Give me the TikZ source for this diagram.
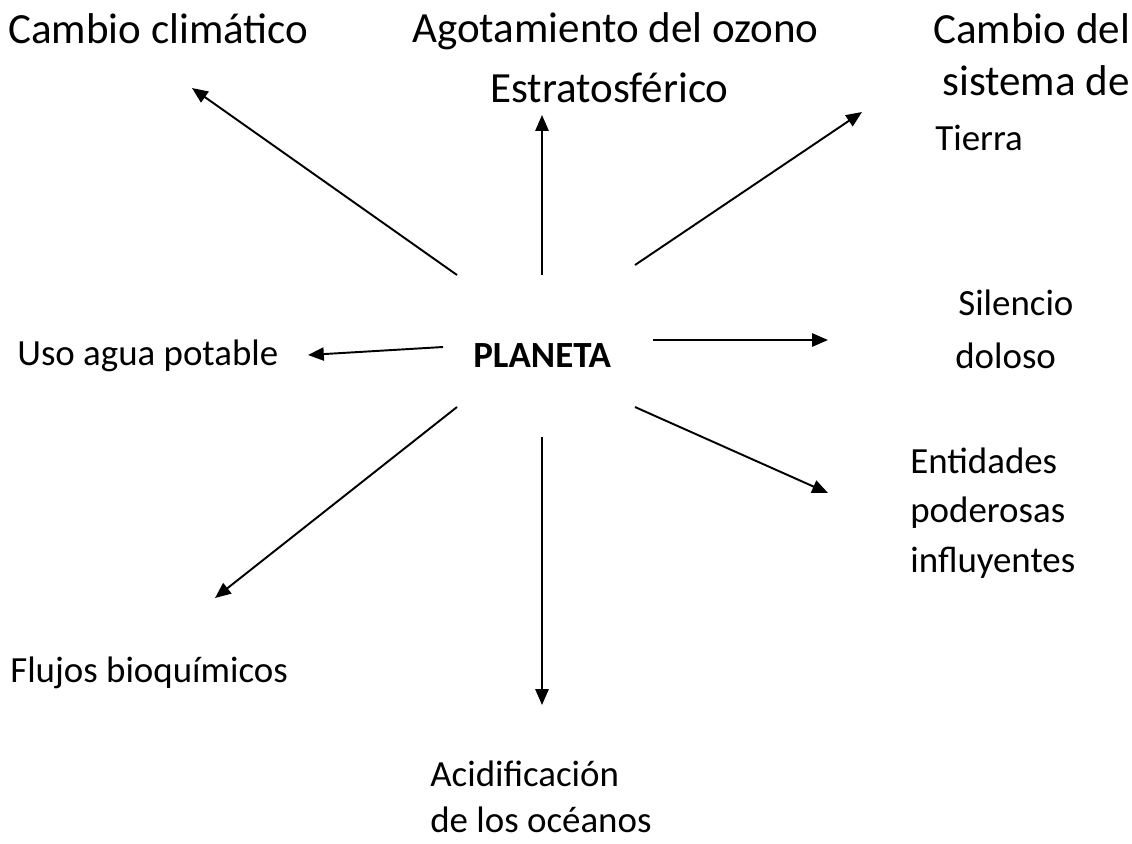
\documentclass[tikz,border=0pt]{standalone}
\usepackage{fontspec}
\setmainfont{Carlito}
\usetikzlibrary{arrows.meta}

\tikzset{
  big/.style={font=\fontsize{24.5}{29}\selectfont, inner sep=0pt, anchor=base west},
  small/.style={font=\fontsize{21}{25}\selectfont, inner sep=0pt, anchor=base west},
  ray/.style={line width=1.1pt, -{Triangle[length=9pt, width=7.5pt]}}
}

\begin{document}
\begin{tikzpicture}[x=0.02cm, y=-0.02cm]
        \useasboundingbox (0,0) rectangle (1132,843);
        % centre
        \node[small, font=\fontsize{21}{25}\selectfont\bfseries] (planeta) at (473,367) {PLANETA};
        % top row
        \node[big] (clima) at (8,43) {Cambio climático};
        \node[big] (ozono) at (412,42) {Agotamiento del ozono};
        \node[big] (ozono2) at (490,102) {Estratosférico};
        \node[big] (tierra) at (933,43) {Cambio del};
        \node[big] (tierra2) at (942,95) {sistema de};
        \node[small] (tierra3) at (935,150) {Tierra};
        % right side
        \node[small] (silencio) at (958,315) {Silencio};
        \node[small] (silencio2) at (955,368) {doloso};
        \node[small] (entid) at (910,473) {Entidades};
        \node[small] (entid2) at (910,522) {poderosas};
        \node[small] (entid3) at (910,572) {influyentes};
        % left side
        \node[small] (agua) at (17,365) {Uso agua potable};
        \node[small] (flujos) at (10,682) {Flujos bioquímicos};
        % bottom
        \node[small] (acid) at (430,786) {Acidificación};
        \node[small] (acid2) at (430,832) {de los océanos};
        % arrow ends
        \coordinate (s1) at (457,275); \coordinate (e1) at (192,88);
        \coordinate (s2) at (542,275); \coordinate (e2) at (542,115);
        \coordinate (s3) at (635,265); \coordinate (e3) at (862,112);
        \coordinate (s4) at (443,347); \coordinate (e4) at (308,355);
        \coordinate (s5) at (653,340); \coordinate (e5) at (828,340);
        \coordinate (s6) at (635,407); \coordinate (e6) at (828,493);
        \coordinate (s7) at (457,407); \coordinate (e7) at (215,598);
        \coordinate (s8) at (542,437); \coordinate (e8) at (542,705);
        \foreach \i in {1,...,8}
          \draw[ray] (s\i) -- (e\i);
\end{tikzpicture}
\end{document}
